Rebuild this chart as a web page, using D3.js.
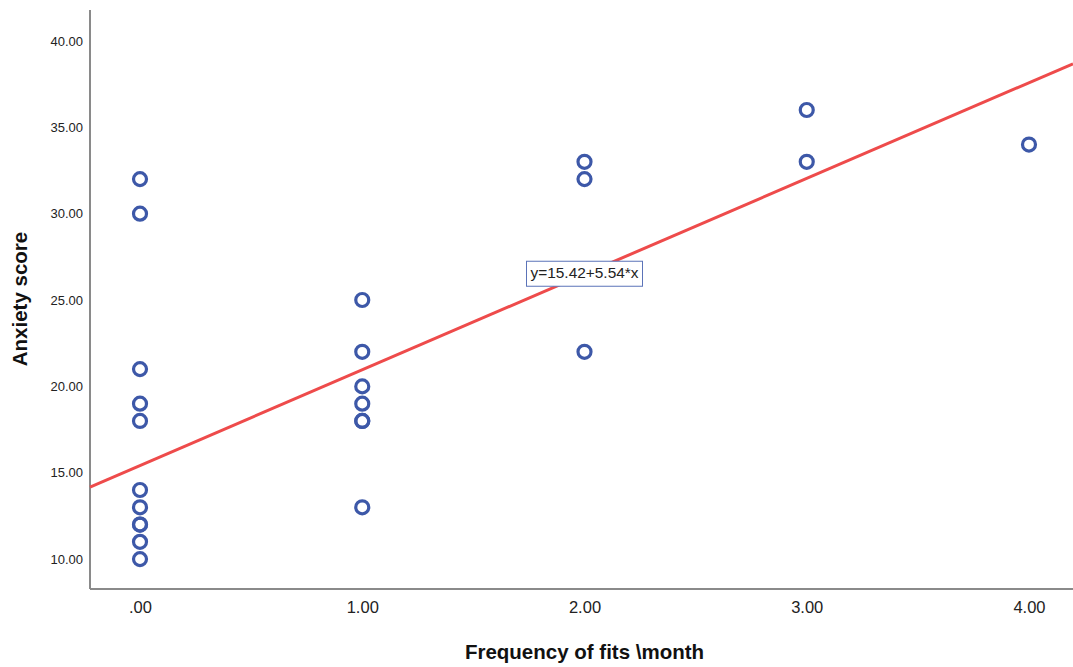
<!DOCTYPE html>
<meta charset="utf-8" />
<script src="https://d3js.org/d3.v7.min.js"></script>
<style>
  body { margin: 0; background: #fff; }
  text { font-family: "Liberation Sans", Arial, sans-serif; }
</style>
<body>
  <div id="chart"></div>
  <script>
    // frequency of fits per month
    const fits = [0, 0, 0, 0, 0, 0, 0, 0, 0, 0, 0,
                  1, 1, 1, 1, 1, 1, 1,
                  2, 2, 2,
                  3, 3,
                  4];
    // anxiety score
    const anxiety = [32, 30, 21, 19, 18, 14, 13, 12, 12, 11, 10,
                     25, 22, 20, 19, 18, 18, 13,
                     33, 32, 22,
                     36, 33,
                     34];
    const xTicks = [0, 1, 2, 3, 4];
    const yTicks = [10, 15, 20, 25, 30, 35, 40];
    const intercept = 15.42, slope = 5.54;

    const W = 1073, H = 667;
    const margin = { top: 10, right: 0, bottom: 78, left: 90 };
    const width = W - margin.left - margin.right,
      height = H - margin.top - margin.bottom;

    const svg = d3.select("#chart").append("svg")
      .attr("width", W).attr("height", H);
    const g = svg.append("g")
      .attr("transform", "translate(" + margin.left + "," + margin.top + ")");

    const x = d3.scaleLinear().domain([-0.225, 4.198]).range([0, width]);
    const y = d3.scaleLinear().domain([8.27, 41.79]).range([height, 0]);

    const fmt = d => d === 0 ? ".00" : d3.format(".2f")(d);

    // axes
    const xAxis = g.append("g")
      .attr("transform", "translate(0," + height + ")")
      .call(d3.axisBottom(x).tickValues(xTicks).tickFormat(fmt).tickSize(0).tickPadding(12));
    xAxis.selectAll("text").style("font-size", "16.5px").attr("fill", "#222");

    const yAxis = g.append("g")
      .call(d3.axisLeft(y).tickValues(yTicks).tickFormat(fmt).tickSize(0).tickPadding(7));
    yAxis.selectAll("text").style("font-size", "13px").attr("fill", "#222");

    g.selectAll(".domain").attr("stroke", "#8a8a8a").attr("stroke-width", 2);
    xAxis.select(".domain").attr("d", "M0,0H" + width);
    yAxis.select(".domain").attr("d", "M0," + height + "V0");

    // fit line
    const xd = x.domain();
    g.append("line")
      .attr("x1", x(xd[0])).attr("y1", y(intercept + slope * xd[0]))
      .attr("x2", x(xd[1])).attr("y2", y(intercept + slope * xd[1]))
      .attr("stroke", "#ee4b4b").attr("stroke-width", 3);

    // points
    g.selectAll("circle.pt")
      .data(fits.map((f, i) => [f, anxiety[i]]))
      .join("circle")
      .attr("class", "pt")
      .attr("cx", d => x(d[0]))
      .attr("cy", d => y(d[1]))
      .attr("r", 6.5)
      .attr("fill", "none")
      .attr("stroke", "#3d58a8")
      .attr("stroke-width", 3.2);

    // equation label
    const lx = x(2), ly = y(26.55);
    const lab = g.append("g").attr("transform", "translate(" + lx + "," + ly + ")");
    lab.append("rect")
      .attr("x", -58).attr("y", -12).attr("width", 116).attr("height", 25)
      .attr("fill", "#fff").attr("stroke", "#5b73b8").attr("stroke-width", 1);
    lab.append("text")
      .attr("text-anchor", "middle").attr("dy", "0.35em")
      .attr("textLength", 108).attr("lengthAdjust", "spacingAndGlyphs")
      .style("font-size", "14px").attr("fill", "#222")
      .text("y=15.42+5.54*x");

    // axis titles
    svg.append("text")
      .attr("x", x(2) + margin.left).attr("y", 659)
      .attr("text-anchor", "middle")
      .style("font-size", "20.5px").style("font-weight", "bold").attr("fill", "#111")
      .text("Frequency of fits \\month");

    svg.append("text")
      .attr("transform", "translate(27," + 299 + ") rotate(-90)")
      .attr("text-anchor", "middle")
      .style("font-size", "20.5px").style("font-weight", "bold").attr("fill", "#111")
      .text("Anxiety score");
  </script>
</body>
